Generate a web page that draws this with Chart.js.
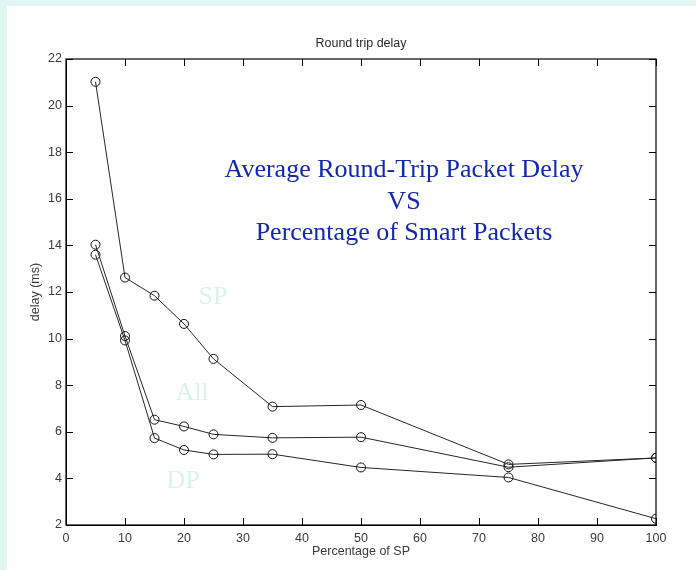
<!DOCTYPE html>
<html>
<head>
<meta charset="utf-8">
<script src="https://cdn.jsdelivr.net/npm/chart.js@4/dist/chart.umd.min.js"></script>
<style>
  html, body { margin: 0; padding: 0; }
  body { width: 696px; height: 570px; background: #e1f6f1; position: relative; overflow: hidden; }
  #panel { position: absolute; left: 7px; top: 6px; width: 689px; height: 564px; background: #ffffff; }
  #c { position: absolute; left: 0; top: 0; }
  .ann { position: absolute; font-family: "Liberation Serif", "Times New Roman", serif; white-space: nowrap; }
  #headline { left: 404px; top: 153px; transform: translateX(-50%); text-align: center; color: #1228b0; font-size: 26px; line-height: 31.5px; }
  .lbl { color: #d9f3ec; font-size: 26px; line-height: 26px; transform: translate(-50%, -50%); }
</style>
</head>
<body>
<div id="panel"></div>
<canvas id="c" width="696" height="570"></canvas>
<div class="ann" id="headline">Average Round-Trip Packet Delay<br>VS<br>Percentage of Smart Packets</div>
<div class="ann lbl" style="left:213px; top:296px;">SP</div>
<div class="ann lbl" style="left:192px; top:392px;">All</div>
<div class="ann lbl" style="left:183px; top:480px;">DP</div>
<script>
const percentSP = [5, 10, 15, 20, 25, 35, 50, 75, 100];
const delaySP  = [21.02, 12.62, 11.84, 10.63, 9.13, 7.08, 7.15, 4.60, 4.88];
const delayAll = [14.03, 10.11, 6.52, 6.23, 5.89, 5.74, 5.77, 4.48, 4.88];
const delayDP  = [13.60, 9.92, 5.73, 5.22, 5.03, 5.04, 4.47, 4.04, 2.27];
const xTicks = [0, 10, 20, 30, 40, 50, 60, 70, 80, 90, 100];
const yTicks = [2, 4, 6, 8, 10, 12, 14, 16, 18, 20, 22];
const seriesNames = ['SP', 'All', 'DP'];

const toPts = arr => percentSP.map((x, i) => ({ x: x, y: arr[i] }));
const mkSet = (name, arr) => ({
  label: name,
  data: toPts(arr),
  xAxisID: 'x',
  yAxisID: 'y',
  borderColor: '#262626',
  borderWidth: 1,
  pointStyle: 'circle',
  pointRadius: 4.5,
  pointBorderWidth: 1,
  pointBorderColor: '#111',
  pointBackgroundColor: 'rgba(0,0,0,0)',
  fill: false,
  tension: 0
});

const tickFont = { family: '"Liberation Sans", Arial, sans-serif', size: 12.5 };

const frameTicks = {
  id: 'frameTicks',
  afterDraw(chart) {
    const { ctx, chartArea: a, scales } = chart;
    const L = 7;
    ctx.save();
    ctx.strokeStyle = '#000';
    ctx.lineWidth = 1.2;
    ctx.strokeRect(a.left, a.top, a.right - a.left, a.bottom - a.top);
    ctx.lineWidth = 1;
    ctx.beginPath();
    scales.x.ticks.forEach(t => {
      const px = Math.round(scales.x.getPixelForValue(t.value)) + 0.5;
      ctx.moveTo(px, a.bottom); ctx.lineTo(px, a.bottom - L);
      ctx.moveTo(px, a.top); ctx.lineTo(px, a.top + L);
    });
    scales.y.ticks.forEach(t => {
      const py = Math.round(scales.y.getPixelForValue(t.value)) + 0.5;
      ctx.moveTo(a.left, py); ctx.lineTo(a.left + L, py);
      ctx.moveTo(a.right, py); ctx.lineTo(a.right - L, py);
    });
    ctx.stroke();
    ctx.restore();
  }
};

new Chart(document.getElementById('c'), {
  type: 'line',
  data: { datasets: [mkSet(seriesNames[0], delaySP), mkSet(seriesNames[1], delayAll), mkSet(seriesNames[2], delayDP)] },
  options: {
    responsive: false,
    animation: false,
    devicePixelRatio: 1,
    layout: { padding: { left: 0, right: 40, top: 0, bottom: 0 } },
    plugins: {
      legend: { display: false },
      tooltip: { enabled: false },
      title: { display: false }
    },
    scales: {
      x: {
        type: 'linear',
        position: 'bottom',
        min: 0, max: 100,
        afterFit(s) { s.height = 45; },
        afterBuildTicks(s) { s.ticks = xTicks.map(v => ({ value: v })); },
        grid: { display: false, drawTicks: false },
        border: { display: true, color: '#000', width: 1 },
        ticks: { color: '#3a3a3a', font: tickFont, padding: 6, maxRotation: 0, autoSkip: false },
        title: { display: true, text: 'Percentage of SP', color: '#3a3a3a', font: tickFont, padding: { top: 0, bottom: 11 } }
      },
      xTop: {
        type: 'linear',
        position: 'top',
        min: 0, max: 100,
        afterFit(s) { s.height = 59; },
        grid: { display: false, drawTicks: false },
        border: { display: false },
        ticks: { display: false },
        title: { display: true, text: 'Round trip delay', color: '#2a2a2a', font: tickFont, padding: { top: 36.5, bottom: 0 } }
      },
      y: {
        type: 'linear',
        min: 2, max: 22,
        afterFit(s) { s.width = 66; },
        afterBuildTicks(s) { s.ticks = yTicks.map(v => ({ value: v })); },
        grid: { display: false, drawTicks: false },
        border: { display: true, color: '#000', width: 1 },
        ticks: { color: '#3a3a3a', font: tickFont, padding: 4, autoSkip: false },
        title: { display: true, text: 'delay (ms)', color: '#3a3a3a', font: tickFont, padding: { top: 28, bottom: 0 } }
      }
    }
  },
  plugins: [frameTicks]
});
</script>
</body>
</html>
